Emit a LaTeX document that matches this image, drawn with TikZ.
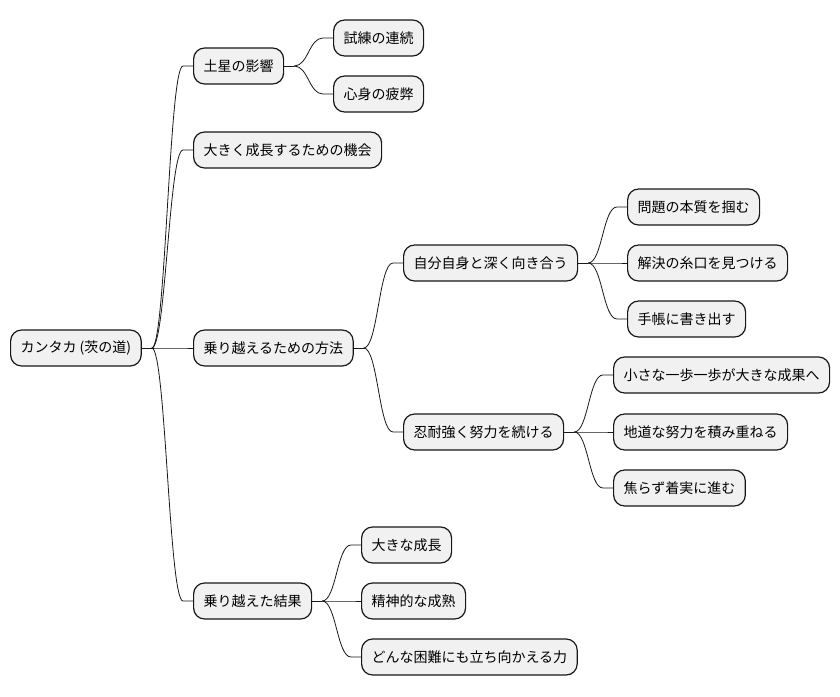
\documentclass[tikz,border=0pt]{standalone}
\usepackage{fontspec}
\setmainfont{Noto Sans CJK JP}
\definecolor{boxfill}{HTML}{F1F1F1}
\definecolor{boxline}{HTML}{181818}
\tikzset{
  mm/.style={draw=boxline, fill=boxfill, line width=1.2pt, rounded corners=11pt,
    minimum height=36pt, inner xsep=10pt, inner ysep=0pt, anchor=west,
    font=\fontsize{14}{16}\selectfont, text=black},
  conn/.style={to path={([xshift=10pt]\tikztostart.east)
      .. controls ([xshift=24pt]\tikztostart.east) and ([xshift=-24pt]\tikztotarget.west)
      .. ([xshift=-10pt]\tikztotarget.west) -- (\tikztotarget.west)}},
  link/.style={draw=boxline, line width=0.8pt}
}
\begin{document}
\begin{tikzpicture}[x=1pt,y=-1pt]
\useasboundingbox (0,0) rectangle (840,696);
\node[mm] (root) at (10,348) {カンタカ (茨の道)};
\node[mm] (a) at (193,66) {土星の影響};
\node[mm] (a1) at (333,38) {試練の連続};
\node[mm] (a2) at (333,94) {心身の疲弊};
\node[mm] (b) at (193,150) {大きく成長するための機会};
\node[mm] (c) at (193,348) {乗り越えるための方法};
\node[mm] (c1) at (403,263) {自分自身と深く向き合う};
\node[mm] (c11) at (627,207) {問題の本質を掴む};
\node[mm] (c12) at (627,263) {解決の糸口を見つける};
\node[mm] (c13) at (627,319) {手帳に書き出す};
\node[mm] (c2) at (403,432) {忍耐強く努力を続ける};
\node[mm] (c21) at (613,375) {小さな一歩一歩が大きな成果へ};
\node[mm] (c22) at (613,432) {地道な努力を積み重ねる};
\node[mm] (c23) at (613,488) {焦らず着実に進む};
\node[mm] (d) at (193,601) {乗り越えた結果};
\node[mm] (d1) at (361,545) {大きな成長};
\node[mm] (d2) at (361,601) {精神的な成熟};
\node[mm] (d3) at (361,657) {どんな困難にも立ち向かえる力};
\foreach \p/\c in {root/a, root/b, root/c, root/d, a/a1, a/a2, c/c1, c/c2,
  c1/c11, c1/c12, c1/c13, c2/c21, c2/c22, c2/c23, d/d1, d/d2, d/d3}{
  \draw[link] (\p.east) -- ([xshift=10pt]\p.east);
  \draw[link] (\p) to[conn] (\c);
}
\end{tikzpicture}
\end{document}
